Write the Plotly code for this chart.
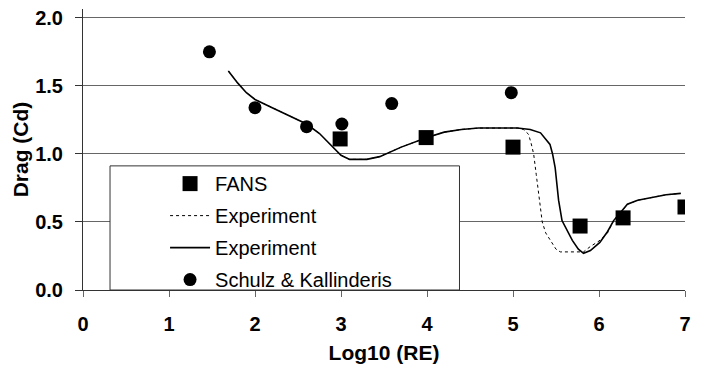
import plotly.graph_objects as go

# FANS computed drag coefficients
fans_log_re = [2.99, 3.99, 5.0, 5.78, 6.28, 7.0]
fans_cd = [1.11, 1.12, 1.05, 0.47, 0.53, 0.61]

# Schulz & Kallinderis results
sk_log_re = [1.47, 2.0, 2.60, 3.01, 3.59, 4.98]
sk_cd = [1.75, 1.34, 1.20, 1.22, 1.37, 1.45]

# Experiment (solid curve)
exp_solid_log_re = [1.69, 1.80, 1.90, 2.0, 2.2, 2.4, 2.6, 2.75, 2.9, 3.0, 3.1, 3.3,
                    3.45, 3.7, 4.0, 4.2, 4.4, 4.6, 4.85, 5.05, 5.2, 5.32, 5.43, 5.46,
                    5.49, 5.53, 5.57, 5.61, 5.69, 5.76, 5.82, 5.9, 6.01, 6.1, 6.17,
                    6.25, 6.33, 6.45, 6.6, 6.78, 6.95]
exp_solid_cd = [1.61, 1.52, 1.45, 1.40, 1.34, 1.28, 1.22, 1.15, 1.05, 0.99, 0.96, 0.96,
                0.98, 1.05, 1.12, 1.16, 1.18, 1.19, 1.19, 1.19, 1.18, 1.155, 1.07, 1.0,
                0.90, 0.66, 0.51, 0.46, 0.365, 0.30, 0.27, 0.29, 0.35, 0.43, 0.51,
                0.57, 0.63, 0.66, 0.68, 0.70, 0.71]

# Experiment (dotted curve)
exp_dot_log_re = [1.69, 1.80, 1.90, 2.0, 2.2, 2.4, 2.6, 2.75, 2.9, 3.0, 3.1, 3.3,
                  3.45, 3.7, 4.0, 4.2, 4.4, 4.6, 4.85, 5.06, 5.12, 5.18, 5.21, 5.24,
                  5.27, 5.30, 5.34, 5.38, 5.44, 5.5, 5.55, 5.7, 5.82, 5.9, 6.0, 6.1,
                  6.17, 6.25, 6.33, 6.45, 6.6, 6.78, 6.95]
exp_dot_cd = [1.61, 1.52, 1.45, 1.40, 1.34, 1.28, 1.22, 1.15, 1.05, 0.99, 0.96, 0.96,
              0.98, 1.05, 1.12, 1.16, 1.18, 1.19, 1.19, 1.19, 1.18, 1.145, 1.08, 1.0,
              0.85, 0.70, 0.50, 0.42, 0.36, 0.30, 0.28, 0.28, 0.28, 0.32, 0.36, 0.42,
              0.51, 0.57, 0.63, 0.66, 0.68, 0.70, 0.71]

x_ticks = [0, 1, 2, 3, 4, 5, 6, 7]
y_ticks = [0.0, 0.5, 1.0, 1.5, 2.0]

FONT = "Liberation Sans, Arial, sans-serif"

fig = go.Figure()

fig.add_trace(go.Scatter(
    x=fans_log_re, y=fans_cd, mode="markers", name="FANS", legendgroup="a",
    marker=dict(symbol="square", size=15, color="black"),
))
fig.add_trace(go.Scatter(
    x=exp_dot_log_re, y=exp_dot_cd, mode="lines", name="Experiment", legendgroup="b",
    line=dict(color="black", width=1, dash="dot"),
))
fig.add_trace(go.Scatter(
    x=exp_solid_log_re, y=exp_solid_cd, mode="lines", name="Experiment", legendgroup="c",
    line=dict(color="black", width=1.6),
))
fig.add_trace(go.Scatter(
    x=sk_log_re, y=sk_cd, mode="markers", name="Schulz & Kallinderis", legendgroup="d",
    marker=dict(symbol="circle", size=13, color="black"),
))

# white legend panel with frame
fig.add_shape(type="rect", xref="paper", yref="paper",
              x0=0.0449, x1=0.6254, y0=0, y1=0.4417,
              fillcolor="white", line=dict(color="#333333", width=1), layer="above")

fig.update_layout(
    width=706, height=369,
    margin=dict(l=83, r=21, t=7, b=79),
    plot_bgcolor="white", paper_bgcolor="white",
    font=dict(family=FONT, color="black"),
    showlegend=True,
    legend=dict(
        x=0.1363, xanchor="left", y=0.448, yanchor="top",
        bgcolor="rgba(0,0,0,0)", borderwidth=0,
        font=dict(size=20, family=FONT, color="black"),
        tracegroupgap=3, itemwidth=40,
    ),
    xaxis=dict(
        range=[0, 7], tickvals=x_ticks, ticktext=[f"<b>{v}</b>" for v in x_ticks],
        showgrid=False, zeroline=False,
        showline=True, linecolor="#333333", linewidth=1,
        ticks="outside", ticklen=6, tickcolor="#666666",
        tickfont=dict(size=20, family=FONT), ticklabelstandoff=10,
        title=dict(text="<b>Log10 (RE)</b>", font=dict(size=21, family=FONT), standoff=11),
    ),
    yaxis=dict(
        range=[0, 2.065], tickvals=y_ticks, ticktext=[f"<b>{v:.1f}</b>" for v in y_ticks],
        showgrid=True, gridcolor="#666666", gridwidth=1, zeroline=False,
        showline=True, linecolor="#333333", linewidth=1,
        ticks="outside", ticklen=7, tickcolor="#333333",
        tickfont=dict(size=20, family=FONT), ticklabelstandoff=8,
        title=dict(text="<b>Drag (Cd)</b>", font=dict(size=21, family=FONT), standoff=0),
    ),
)

fig.write_html("out.html")
